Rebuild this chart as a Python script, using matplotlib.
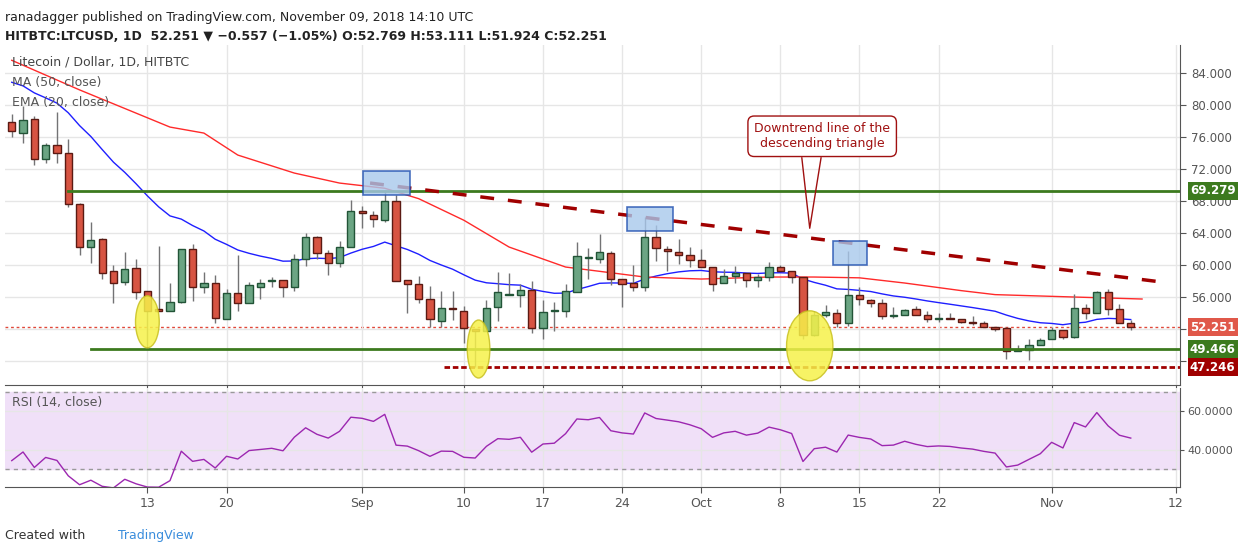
import numpy as np
import matplotlib.pyplot as plt
from matplotlib.patches import Rectangle, Ellipse

# daily OHLC, Aug 1 .. Nov 9 2018
opens = [77.9, 76.5, 78.2, 73.3, 75.0, 74.0, 67.6, 62.3, 63.2, 59.2, 57.9, 59.6, 56.7, 54.5, 54.3, 55.4, 61.95, 57.2, 57.8, 53.3,
         56.5, 55.2, 57.3, 58.0, 58.1, 57.2, 60.8, 63.5, 61.5, 60.3, 62.2, 66.8, 66.3, 65.6, 68.0, 58.1, 57.6, 55.7, 53.0, 54.6,
         54.3, 52.0, 51.8, 54.7, 56.3, 56.3, 56.9, 52.1, 54.2, 54.3, 56.6, 60.9, 60.7, 61.5, 58.2, 57.7, 57.3, 63.5, 62.0, 61.6,
         61.2, 60.6, 59.7, 57.7, 58.6, 58.95, 58.1, 58.5, 59.7, 59.2, 58.5, 51.3, 53.7, 54.0, 52.7, 56.25, 55.6, 55.3, 53.6, 53.7,
         54.45, 53.7, 53.2, 53.3, 53.2, 52.9, 52.7, 52.3, 52.1, 49.2, 49.4, 50.0, 50.7, 51.9, 51.0, 54.6, 53.95, 56.6, 54.55, 52.769]
closes = [76.7, 78.1, 73.2, 75.0, 74.0, 67.6, 62.2, 63.1, 59.0, 57.8, 59.5, 56.6, 54.3, 54.2, 55.4, 61.95, 57.3, 57.8, 53.4, 56.5,
          55.2, 57.5, 57.8, 58.1, 57.2, 60.7, 63.5, 61.5, 60.3, 62.2, 66.8, 66.5, 65.7, 68.0, 58.0, 57.6, 55.7, 53.2, 54.6, 54.5,
          52.1, 51.8, 54.6, 56.6, 56.4, 56.9, 52.1, 54.1, 54.3, 56.7, 61.1, 60.9, 61.6, 58.2, 57.6, 57.3, 63.5, 62.1, 61.7, 61.3,
          60.6, 59.7, 57.6, 58.6, 58.95, 58.1, 58.5, 59.7, 59.2, 58.5, 51.3, 53.8, 54.1, 52.7, 56.3, 55.7, 55.3, 53.6, 53.7, 54.4,
          53.7, 53.2, 53.3, 53.2, 52.9, 52.7, 52.3, 52.0, 49.2, 49.4, 50.0, 50.6, 51.9, 51.0, 54.6, 53.95, 56.6, 54.5, 52.8, 52.251]
highs = [78.9, 79.9, 78.6, 75.2, 79.1, 75.7, 67.8, 65.4, 63.4, 60.0, 61.6, 60.8, 56.7, 62.4, 57.8, 61.95, 62.6, 59.1, 58.7, 57.0,
         61.25, 57.9, 58.3, 58.5, 58.1, 61.4, 64.0, 63.6, 61.9, 63.0, 68.1, 67.4, 66.8, 69.4, 68.7, 58.1, 58.6, 57.4, 56.7, 56.75,
         54.9, 52.0, 55.6, 59.1, 59.0, 57.6, 58.0, 55.6, 55.4, 57.6, 62.9, 62.1, 63.9, 61.75, 58.2, 60.0, 66.0, 65.0, 62.4, 63.2,
         62.2, 62.0, 59.7, 59.5, 59.9, 58.95, 58.9, 60.4, 60.0, 59.2, 58.5, 54.25, 55.0, 54.5, 61.75, 57.2, 55.75, 55.8, 54.7, 54.5,
         54.9, 54.25, 54.0, 54.0, 53.2, 53.6, 53.0, 52.3, 52.2, 50.0, 50.8, 50.9, 52.2, 51.9, 56.4, 55.1, 56.75, 57.0, 55.1, 53.111]
lows = [76.0, 75.3, 72.5, 72.7, 72.8, 67.2, 61.2, 60.3, 58.3, 55.2, 57.5, 55.75, 49.6, 54.2, 54.3, 55.3, 55.5, 56.5, 52.8, 53.3,
        54.2, 55.2, 55.8, 57.2, 56.0, 56.7, 59.9, 60.7, 58.7, 59.7, 62.2, 64.6, 64.7, 65.4, 58.0, 54.0, 55.3, 52.2, 52.3, 53.1,
        50.3, 47.2, 51.8, 53.0, 56.3, 54.7, 51.5, 50.7, 51.8, 53.5, 56.6, 58.3, 60.2, 57.5, 54.7, 56.7, 56.8, 60.5, 59.3, 60.1,
        59.7, 59.7, 56.8, 57.7, 57.8, 57.2, 57.2, 57.95, 59.2, 57.7, 50.8, 51.1, 53.5, 52.3, 52.4, 55.0, 54.7, 53.2, 53.4, 53.7,
        53.7, 52.9, 52.9, 53.2, 52.8, 52.5, 52.3, 51.8, 48.3, 49.2, 48.1, 50.0, 50.7, 50.8, 50.9, 53.3, 53.95, 53.8, 52.8, 51.924]

# MA(50) at some candle indices
ma50_idx = [0, 6, 14, 17, 20, 25, 29, 33, 36, 40, 44, 49, 56, 61, 67, 71, 75, 79, 84, 87, 94, 100]
ma50_val = [85.6, 81.9, 77.25, 76.5, 73.75, 71.5, 70.25, 69.6, 68.3, 65.6, 62.25, 59.75, 58.5, 58.25, 58.5, 58.5, 58.4, 57.75,
            56.8, 56.3, 56.0, 55.75]

hlines = [69.279, 49.466, 47.246]
last = 52.251

n = len(closes)
x = np.arange(n)
c = np.array(closes)

# EMA(20)
ema = []
prev = 83.5
for v in c:
    prev = prev + 2 / 21 * (v - prev)
    ema.append(prev)

# RSI(14), Wilder
ag, al = 0.55, 0.95
rsi = []
for i in range(n):
    d = c[i] - (c[i - 1] if i else 77.9)
    ag = (ag * 13 + max(d, 0)) / 14
    al = (al * 13 + max(-d, 0)) / 14
    rsi.append(100 - 100 / (1 + ag / al))

fig = plt.figure(figsize=(12.4, 5.5), dpi=100)
ax = fig.add_axes([0.004, 0.3, 0.948, 0.618])
ar = fig.add_axes([0.004, 0.1145, 0.948, 0.18], sharex=ax)

up, upe, dn, dne = '#6ba583', '#225437', '#d75442', '#5b1a13'
for i in range(n):
    o, cl = opens[i], closes[i]
    ax.vlines(i, lows[i], highs[i], color='#737375', lw=1, zorder=3)
    col, ec = (up, upe) if cl >= o else (dn, dne)
    h = max(abs(cl - o), 0.12)
    ax.add_patch(Rectangle((i - 0.32, min(o, cl)), 0.64, h, fc=col, ec=ec, lw=1, zorder=4))

ax.plot(x, ema, color='#1f1fff', lw=1, zorder=2)
ax.plot(ma50_idx, ma50_val, color='#ff2a2a', lw=1, zorder=2)

ax.plot([5.0, 103.4], [hlines[0], hlines[0]], color='#3c7a1e', lw=2, zorder=5)
ax.plot([7.0, 103.4], [hlines[1], hlines[1]], color='#3c7a1e', lw=2, zorder=5)
ax.plot([38.2, 103.4], [hlines[2], hlines[2]], color='#a00000', lw=2, ls=(0, (2, 1)), zorder=5)
ax.axhline(last, color='#e0483a', lw=1, ls=(0, (2, 2)), zorder=1)
ax.plot([31.7, 101.6], [70.25, 57.9], color='#a00000', lw=2.5, ls=(0, (4, 4)), zorder=5)

for x0, x1, p0, p1 in [(31.1, 35.2, 68.75, 71.75), (54.4, 58.5, 64.25, 67.25), (72.7, 75.7, 60.0, 63.0)]:
    ax.add_patch(Rectangle((x0, p0), x1 - x0, p1 - p0, fc='#a8c8ec', ec='#2050b0', lw=1.2, alpha=0.8, zorder=6))
for cx, cy, w, h in [(12, 52.9, 2.1, 6.5), (41.3, 49.5, 2.0, 7.25), (70.6, 49.9, 4.1, 8.75)]:
    ax.add_patch(Ellipse((cx, cy), w, h, fc='#f6f24a', ec='#c8c020', lw=1, alpha=0.85, zorder=7))

ax.text(71.7, 76.1, 'Downtrend line of the\ndescending triangle', ha='center', va='center', fontsize=9,
        color='#a01010', zorder=9,
        bbox=dict(boxstyle='round,pad=0.5', fc='white', ec='#a01010', lw=1))
ax.plot([69.9, 70.6, 71.6], [73.4, 64.6, 73.4], color='#a01010', lw=1, zorder=8)

ax.set_xlim(-0.6, 103.4)
ax.set_ylim(45, 87.5)
ax.yaxis.tick_right()
yt = np.arange(48, 85, 4)
ax.set_yticks(yt)
# 48 and 52 sit behind the price boxes, as in the original
ax.set_yticklabels(['' if v in (48, 52) else '%.3f' % v for v in yt])
ax.grid(color='#e6e6e6', lw=1)
ax.tick_params(colors='#555555', labelsize=8.5, length=4, labelbottom=False)
for s in ['top', 'left']:
    ax.spines[s].set_visible(False)
ax.spines['right'].set_color('#555555')
ax.spines['bottom'].set_color('#555555')

for val, fc in [(hlines[0], '#3c7a1e'), (last, '#e0584a'), (hlines[1], '#3c7a1e'), (hlines[2], '#a00000')]:
    ax.text(1.008, val, '%.3f' % val, transform=ax.get_yaxis_transform(), ha='left', va='center', fontsize=8.5,
            color='white', fontweight='bold', bbox=dict(boxstyle='square,pad=0.2', fc=fc, ec='none'), zorder=10)

ax.text(0.006, 0.97, 'Litecoin / Dollar, 1D, HITBTC', transform=ax.transAxes, fontsize=9, color='#444444', va='top')
ax.text(0.006, 0.91, 'MA (50, close)', transform=ax.transAxes, fontsize=9, color='#555555', va='top')
ax.text(0.006, 0.85, 'EMA (20, close)', transform=ax.transAxes, fontsize=9, color='#555555', va='top')

ar.axhspan(30, 70, color='#f0e0f8', zorder=0)
ar.axhline(70, color='#999999', lw=1, ls=(0, (3, 3)))
ar.axhline(30, color='#999999', lw=1, ls=(0, (3, 3)))
ar.plot(x, rsi, color='#9c27b0', lw=1)
ar.set_ylim(21, 71.8)
ar.yaxis.tick_right()
ar.set_yticks([40, 60])
ar.set_yticklabels(['40.0000', '60.0000'])
ar.grid(color='#e6e6e6', lw=1)
ar.text(0.006, 0.92, 'RSI (14, close)', transform=ar.transAxes, fontsize=9, color='#555555', va='top')
ticks = [12, 19, 31, 40, 47, 54, 61, 68, 75, 82, 92, 103]
labels = ['13', '20', 'Sep', '10', '17', '24', 'Oct', '8', '15', '22', 'Nov', '12']
ar.set_xticks(ticks)
ar.set_xticklabels(labels)
ar.tick_params(axis='x', colors='#555555', labelsize=9, length=4)
ar.tick_params(axis='y', colors='#555555', labelsize=8, length=3, pad=2)
for s in ['top', 'left']:
    ar.spines[s].set_visible(False)
ar.spines['right'].set_color('#555555')
ar.spines['bottom'].set_color('#555555')

fig.text(0.004, 0.98, 'ranadagger published on TradingView.com, November 09, 2018 14:10 UTC', fontsize=9,
         va='top', color='#222222')
fig.text(0.004, 0.945, 'HITBTC:LTCUSD, 1D  52.251 \u25bc \u22120.557 (\u22121.05%) O:52.769 H:53.111 L:51.924 C:52.251',
         fontsize=9, va='top', color='#222222', fontweight='bold')
fig.text(0.004, 0.02, 'Created with', fontsize=9, color='#333333')
fig.text(0.095, 0.02, 'TradingView', fontsize=9, color='#3a8ddc')

fig.savefig('out.png')
